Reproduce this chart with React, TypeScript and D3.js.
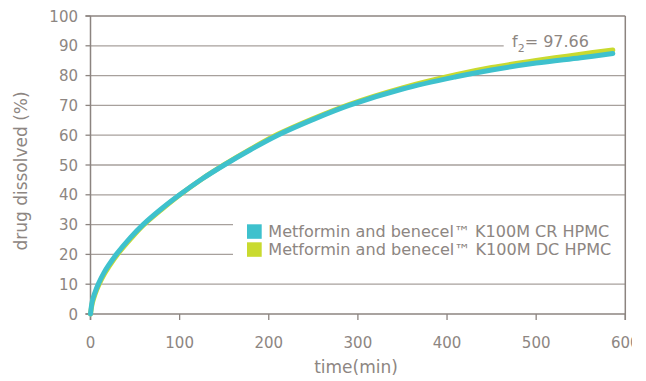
import React from "react";
import * as d3 from "d3";

const W = 646;
const H = 381;

const xTicks = [0, 100, 200, 300, 400, 500, 600];
const yTicks = [0, 10, 20, 30, 40, 50, 60, 70, 80, 90, 100];

const timeCR = [0, 2, 5, 9, 15, 20, 29, 45, 59, 80, 100, 125, 150, 180, 210, 250, 290, 350, 410, 450, 500, 550, 586];
const valCR = [0, 4.3, 7.2, 10.2, 13.8, 16.2, 20, 25.7, 30, 35.4, 40, 45.3, 50, 55.2, 60, 65.3, 70, 75.5, 79.6, 81.9, 84.2, 86.0, 87.4];

const timeDC = [0, 2, 5, 9, 15, 20, 29, 45, 59, 80, 100, 125, 150, 180, 210, 250, 290, 350, 410, 450, 500, 550, 586];
const valDC = [0, 3.6, 6.6, 9.6, 13.2, 15.6, 19.5, 25.2, 29.7, 35.1, 39.9, 45.3, 50.1, 55.4, 60.3, 65.6, 70.3, 75.9, 80.3, 82.7, 85.1, 87.2, 88.6];

const seriesNames = [
  "Metformin and benecel\u2122 K100M CR HPMC",
  "Metformin and benecel\u2122 K100M DC HPMC",
];
const colors = ["#3ec1cd", "#c9da2f"];

const f2Label = "97.66";

const margin = { left: 90.5, right: 625.3, top: 16, bottom: 314 };

export default function App() {
  const x = d3.scaleLinear().domain([0, 600]).range([margin.left, margin.right]);
  const y = d3.scaleLinear().domain([0, 100]).range([margin.bottom, margin.top]);
  const line = d3
    .line<[number, number]>()
    .x((d) => x(d[0]))
    .y((d) => y(d[1]))
    .curve(d3.curveCatmullRom.alpha(0.5));
  const cr = timeCR.map((t, i) => [t, valCR[i]] as [number, number]);
  const dc = timeDC.map((t, i) => [t, valDC[i]] as [number, number]);
  const textColor = "#8d8682";
  const axisColor = "#8c8480";
  const gridColor = "#a7a09c";
  const font = "'DejaVu Sans', sans-serif";
  const legendX = 233;

  return (
    <svg
      width={W}
      height={H}
      style={{ position: "absolute", left: 0, top: 0, background: "#fff" }}
      fontFamily={font}
    >
      <defs>
        <clipPath id="clipR">
          <rect x={0} y={0} width={632} height={H} />
        </clipPath>
      </defs>
      {yTicks
        .filter((v) => v !== 0 && v !== 100)
        .map((v) => {
          let x2 = margin.right;
          if (v === 90) x2 = 503.7;
          if (v === 20 || v === 30) x2 = legendX;
          return (
            <line
              key={"g" + v}
              x1={margin.left}
              x2={x2}
              y1={y(v)}
              y2={y(v)}
              stroke={gridColor}
              strokeWidth={1.3}
            />
          );
        })}
      <line x1={margin.left - 5} x2={margin.right} y1={y(100)} y2={y(100)} stroke={axisColor} strokeWidth={1.5} />
      <line x1={margin.left - 5} x2={margin.right} y1={y(0)} y2={y(0)} stroke={axisColor} strokeWidth={1.5} />
      <line x1={margin.left} x2={margin.left} y1={y(100)} y2={y(0) + 6} stroke={axisColor} strokeWidth={1.5} />
      <line x1={margin.right} x2={margin.right} y1={y(100)} y2={y(0) + 6} stroke={axisColor} strokeWidth={1.5} />
      {yTicks.map((v) => (
        <g key={"yt" + v}>
          <line x1={margin.left - 5} x2={margin.left} y1={y(v)} y2={y(v)} stroke={axisColor} strokeWidth={1.3} />
          <text x={78} y={y(v) + 5.5} textAnchor="end" fontSize={15} fill={textColor}>
            {v}
          </text>
        </g>
      ))}
      {xTicks.map((v) => (
        <g key={"xt" + v} clipPath="url(#clipR)">
          <line x1={x(v)} x2={x(v)} y1={y(0)} y2={y(0) + 6} stroke={axisColor} strokeWidth={1.3} />
          <text x={x(v)} y={348.3} textAnchor="middle" fontSize={15} fill={textColor}>
            {v}
          </text>
        </g>
      ))}
      <text x={356} y={373} textAnchor="middle" fontSize={17} fill={textColor}>
        time(min)
      </text>
      <text
        transform={`translate(27,171) rotate(-90)`}
        textAnchor="middle"
        fontSize={17}
        fill={textColor}
      >
        drug dissolved (%)
      </text>
      <path d={line(dc) || ""} fill="none" stroke={colors[1]} strokeWidth={5} strokeLinecap="round" />
      <path d={line(cr) || ""} fill="none" stroke={colors[0]} strokeWidth={5} strokeLinecap="round" />
      <text x={512} y={46.7} fontSize={16} fill={textColor}>
        f
        <tspan fontSize={11} dy={5}>2</tspan>
        <tspan fontSize={16} dy={-5}>{"= " + f2Label}</tspan>
      </text>
      {seriesNames.map((name, i) => (
        <g key={"lg" + i}>
          <rect x={247} y={224.3 + i * 18} width={14.7} height={14.5} fill={colors[i]} />
          <text
            x={268.3}
            y={236.8 + i * 18}
            fontSize={15}
            fill={textColor}
            textLength={i === 0 ? 341 : 343}
            lengthAdjust="spacingAndGlyphs"
          >
            {name}
          </text>
        </g>
      ))}
    </svg>
  );
}
